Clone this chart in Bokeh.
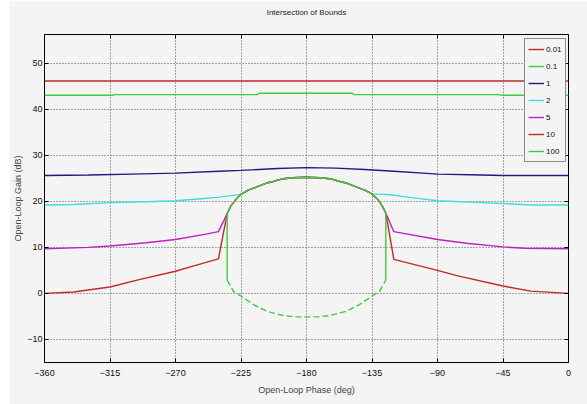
from bokeh.plotting import figure
from bokeh.models import FixedTicker, LinearAxis, Legend, Spacer, Title
from bokeh.layouts import row
from bokeh.embed import file_html
from bokeh.resources import INLINE

# ---------------- data ----------------
x_ticks = [-360, -315, -270, -225, -180, -135, -90, -45, 0]
y_ticks = [-10, 0, 10, 20, 30, 40, 50]

# shared upper arc (bound for frequency 100)
arc_ph = [-234.5, -232, -229, -225, -220, -215, -208, -203, -196, -189, -180,
          -171, -164, -157, -152, -145, -140, -135, -131, -128, -125.5]
arc_db = [17.3, 19.0, 20.2, 21.5, 22.4, 23.0, 23.9, 24.3, 24.9, 25.1, 25.2,
          25.1, 24.9, 24.3, 23.9, 23.0, 22.4, 21.6, 20.4, 19.0, 17.4]

# lower (dashed) arc
low_ph = [-234.5, -230, -225, -216, -207, -196, -188, -180, -172, -164, -153,
          -144, -135, -130, -125.5]
low_db = [2.9, 0.4, -0.6, -2.5, -3.9, -4.8, -5.1, -5.1, -5.1, -4.8, -3.9,
          -2.5, -0.6, 0.4, 2.9]

# 0.01
s001_ph = [-360, 0]
s001_db = [46.1, 46.1]
# 0.1
s01_ph = [-360, -313, -312, -214, -212, -149, -147, -48, -46, 0]
s01_db = [43.0, 43.0, 43.15, 43.15, 43.45, 43.45, 43.15, 43.15, 43.0, 43.0]
# 1
s1_ph = [-360, -330, -300, -270, -240, -225, -200, -180, -160, -140, -120,
         -100, -90, -60, -45, 0]
s1_db = [25.6, 25.7, 25.9, 26.1, 26.5, 26.7, 27.1, 27.3, 27.2, 26.9, 26.5,
         26.1, 25.9, 25.7, 25.6, 25.6]
# 2
s2_left_ph = [-360, -340, -315, -290, -270, -250, -240]
s2_left_db = [19.2, 19.3, 19.7, 19.9, 20.1, 20.6, 20.9]
s2_right_ph = [-122, -108, -90, -60, -45, -25, 0]
s2_right_db = [21.4, 20.8, 20.1, 19.7, 19.5, 19.2, 19.2]
# 5
s5_left_ph = [-360, -330, -315, -290, -270, -250, -240.5]
s5_left_db = [9.7, 10.0, 10.3, 11.0, 11.7, 12.8, 13.4]
s5_right_ph = [-120, -90, -70, -45, -30, 0]
s5_right_db = [13.4, 11.7, 10.9, 10.1, 9.8, 9.7]
# 10
s10_left_ph = [-360, -340, -315, -295, -270, -255, -240.5]
s10_left_db = [0.0, 0.3, 1.4, 3.0, 4.8, 6.2, 7.5]
s10_right_ph = [-120, -90, -76, -45, -26, 0]
s10_right_db = [7.4, 5.0, 3.8, 1.6, 0.5, 0.0]
# 100
s100_end_db = 2.9

labels = ["0.01", "0.1", "1", "2", "5", "10", "100"]
colors = ["#bf2b2b", "#3fcc3f", "#1c1c7c", "#3fdede", "#c020c0", "#bf2b2b", "#3fcc3f"]

# ---------------- figure ----------------
BG = "#f4f4f4"
FONT = "Liberation Sans"
SPACER_W = 9

p = figure(width=587 - SPACER_W, height=404, x_range=(-360, 0), y_range=(-15, 56.2),
           output_backend="svg", toolbar_location=None,
           min_border_left=35, min_border_right=19, min_border_top=34,
           min_border_bottom=42, background_fill_color=BG, border_fill_color=BG,
           title="Intersection of Bounds")
p.outline_line_color = "black"
p.outline_line_width = 1
p.title.align = "center"
p.title.text_font = FONT
p.title.text_font_size = "8px"
p.title.text_font_style = "normal"
p.title.text_color = "#222222"

def style_axis(ax, ticks, show_labels, standoff):
    ax.ticker = FixedTicker(ticks=ticks)
    ax.major_tick_in = 4
    ax.major_tick_out = 0
    ax.minor_tick_line_color = None
    ax.axis_line_color = None
    ax.major_tick_line_color = "black"
    ax.major_label_text_font = FONT
    ax.major_label_text_font_size = "9px"
    ax.major_label_text_color = "#111111"
    ax.major_label_standoff = standoff
    if not show_labels:
        ax.major_label_overrides = {t: "" for t in ticks}

p.xaxis.axis_label = "Open-Loop Phase (deg)"
p.yaxis.axis_label = "Open-Loop Gain (dB)"
p.xaxis.axis_label_text_font = FONT
p.xaxis.axis_label_text_font_size = "9px"
p.xaxis.axis_label_text_font_style = "normal"
p.xaxis.axis_label_standoff = 6
p.yaxis.axis_label_text_font = FONT
p.yaxis.axis_label_text_font_size = "9px"
p.yaxis.axis_label_text_font_style = "normal"
p.yaxis.axis_label_standoff = 1
style_axis(p.xaxis[0], x_ticks, True, 7)
style_axis(p.yaxis[0], y_ticks, True, 2)

top_ax = LinearAxis()
right_ax = LinearAxis()
p.add_layout(top_ax, "above")
p.add_layout(right_ax, "right")
style_axis(top_ax, x_ticks, False, 0)
style_axis(right_ax, y_ticks, False, 0)
# blank spacer between top axis and title
p.add_layout(Title(text=" ", text_font_size="6px", standoff=5), "above")

p.xgrid[0].ticker = FixedTicker(ticks=x_ticks)
p.ygrid[0].ticker = FixedTicker(ticks=y_ticks)
for g in (p.xgrid[0], p.ygrid[0]):
    g.grid_line_color = "#555555"
    g.grid_line_dash = "1 2"
    g.grid_line_width = 1

LW = 1.4
r001 = p.line(s001_ph, s001_db, color=colors[0], line_width=LW)
r01 = p.line(s01_ph, s01_db, color=colors[1], line_width=LW)
r1 = p.line(s1_ph, s1_db, color=colors[2], line_width=LW)

arc_mid_ph = [a for a in arc_ph if -225 <= a <= -135]
arc_mid_db = [d for a, d in zip(arc_ph, arc_db) if -225 <= a <= -135]
r2 = p.line(s2_left_ph + arc_mid_ph + s2_right_ph,
            s2_left_db + arc_mid_db + s2_right_db, color=colors[3], line_width=LW)
r5 = p.line(s5_left_ph + arc_ph + s5_right_ph,
            s5_left_db + arc_db + s5_right_db, color=colors[4], line_width=LW)
r10 = p.line(s10_left_ph + arc_ph + s10_right_ph,
             s10_left_db + arc_db + s10_right_db, color=colors[5], line_width=LW)
r100 = p.line([arc_ph[0]] + arc_ph + [arc_ph[-1]],
              [s100_end_db] + arc_db + [s100_end_db], color=colors[6], line_width=LW)
p.line(low_ph, low_db, color=colors[6], line_width=LW, line_dash="6 3")

legend = Legend(items=[(lab, [r]) for lab, r in
                       zip(labels, [r001, r01, r1, r2, r5, r10, r100])],
                location=(480, 200))
legend.glyph_width = 16
legend.glyph_height = 14
legend.label_height = 14
legend.label_width = 14
legend.spacing = 3
legend.padding = 3
legend.margin = 0
legend.label_standoff = 2
legend.label_text_font = FONT
legend.label_text_font_size = "8px"
legend.label_text_color = "#111111"
legend.background_fill_color = BG
legend.background_fill_alpha = 1
legend.border_line_color = "#222222"
legend.border_line_width = 1
p.add_layout(legend, "center")

layout = row(Spacer(width=SPACER_W, height=404, background="white"), p, spacing=0)

html = file_html(layout, INLINE)
with open("out.html", "w") as f:
    f.write(html)
